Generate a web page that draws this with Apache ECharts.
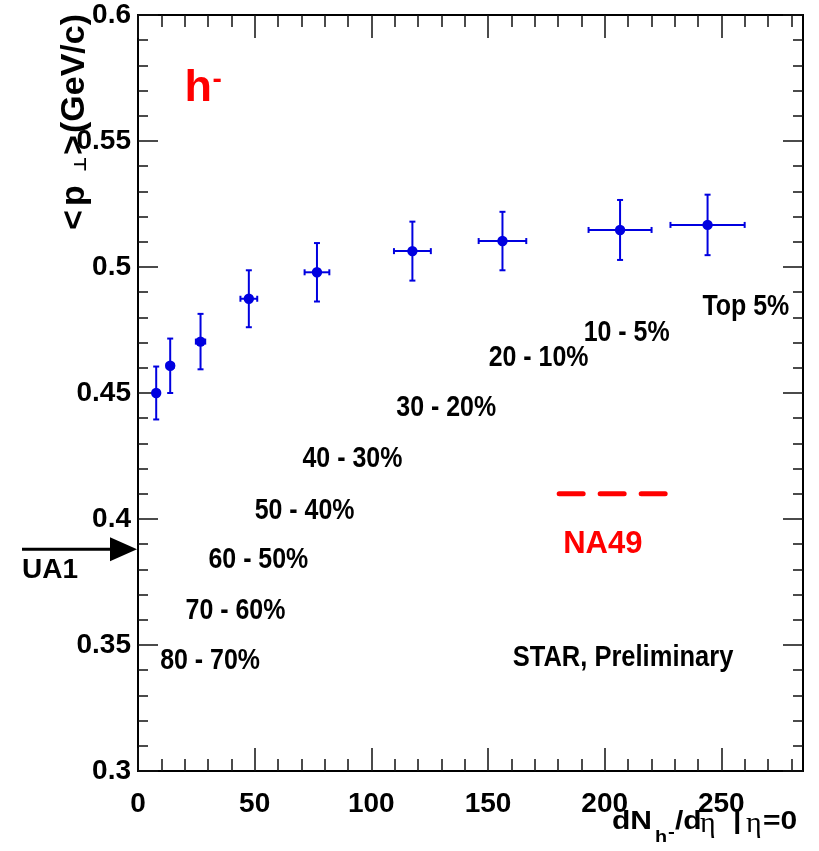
<!DOCTYPE html>
<html><head><meta charset="utf-8">
<script src="https://cdn.jsdelivr.net/npm/echarts@6/dist/echarts.min.js"></script>
<style>html,body{margin:0;padding:0;background:#fff}#c{width:819px;height:851px}</style>
</head><body><div id="c"></div>
<script>
// ---- data ----
const dNdEta      = [7.8, 13.8, 26.8, 47.5, 76.7, 117.6, 156.2, 206.6, 244.1];
const dNdEtaErr   = [1.0, 1.5, 2.0, 3.6, 5.3, 7.9, 10.2, 13.5, 15.9];
const meanPt      = [0.4500, 0.4608, 0.4704, 0.4874, 0.4979, 0.5063, 0.5103, 0.5147, 0.5167];
const meanPtErr   = [0.0105, 0.0108, 0.0110, 0.0113, 0.0116, 0.0117, 0.0116, 0.0119, 0.0120];
const centralityLabels = ['80 - 70%', '70 - 60%', '60 - 50%', '50 - 40%', '40 - 30%', '30 - 20%', '20 - 10%', '10 - 5%', 'Top 5%'];
const centralityAnchorX = [9.5, 20.4, 30.2, 50.0, 70.5, 110.7, 150.3, 191.0, 241.9];
const centralityAnchorY = [0.3435, 0.3635, 0.3837, 0.4032, 0.4238, 0.4442, 0.4639, 0.4740, 0.4841];
const xTickValues = [0, 50, 100, 150, 200, 250];
const xMinorTickValues = [10, 20, 30, 40, 60, 70, 80, 90, 110, 120, 130, 140, 160, 170, 180, 190, 210, 220, 230, 240, 260, 270, 280];
const yTickLabels = ['0.3', '0.35', '0.4', '0.45', '0.5', '0.55', '0.6'];
const na49MeanPt = 0.41;
const na49Range = [180.5, 226.5];
const ua1MeanPt = 0.388;

const BLUE = '#0000e0';
const RED = '#ff0000';
const ARIAL = "'Liberation Sans', Arial, sans-serif";
const SERIF = "'Liberation Serif', 'DejaVu Serif', serif";
const DEJAVU = "'DejaVu Sans', sans-serif";

const chart = echarts.init(document.getElementById('c'), null, {renderer: 'canvas'});

const axisLineStyle = {color: '#000', width: 2};
const tickStyle = {color: '#111', width: 1.5};

function xAx(pos, values, len, withLabel) {
  return {
    type: 'value', position: pos, min: 0, max: 285, interval: 10,
    axisLine: {show: true, onZero: false, lineStyle: axisLineStyle},
    axisTick: {show: true, inside: true, length: len, customValues: values, lineStyle: tickStyle},
    axisLabel: withLabel ? {show: true, customValues: xTickValues, margin: 19, fontSize: 28, fontWeight: 'bold', fontFamily: ARIAL, color: '#000'} : {show: false},
    splitLine: {show: false}
  };
}
function yAx(pos, withLabel) {
  return {
    type: 'value', position: pos, min: 0.3, max: 0.6, interval: 0.05,
    axisLine: {show: true, onZero: false, lineStyle: axisLineStyle},
    axisTick: {show: true, inside: true, length: 20, lineStyle: tickStyle},
    minorTick: {show: true, splitNumber: 5, length: 10, lineStyle: tickStyle},
    axisLabel: withLabel ? {show: true, margin: 7, fontSize: 28, fontWeight: 'bold', fontFamily: ARIAL, color: '#000',
      formatter: (v) => yTickLabels[Math.round((v - 0.3) / 0.05)]} : {show: false},
    splitLine: {show: false}
  };
}

const option = {
  animation: false,
  backgroundColor: '#fff',
  grid: {left: 138, right: 16, top: 15, bottom: 80},
  xAxis: [
    xAx('bottom', xMinorTickValues, 12, true),
    xAx('bottom', xTickValues, 23, false),
    xAx('top', xMinorTickValues, 12, false),
    xAx('top', xTickValues, 23, false)
  ],
  yAxis: [yAx('left', true), yAx('right', false)],
  series: [
    {
      type: 'custom', xAxisIndex: 0, yAxisIndex: 0, clip: false, z: 10,
      data: dNdEta.map((x, i) => [x, meanPt[i], dNdEtaErr[i], meanPtErr[i]]),
      encode: {x: 0, y: 1},
      renderItem: function (params, api) {
        const x = api.value(0), y = api.value(1), ex = api.value(2), ey = api.value(3);
        const c = api.coord([x, y]);
        const l = api.coord([x - ex, y]), r = api.coord([x + ex, y]);
        const t = api.coord([x, y + ey]), b = api.coord([x, y - ey]);
        const st = {stroke: BLUE, lineWidth: 2};
        return {
          type: 'group',
          children: [
            {type: 'line', shape: {x1: c[0], y1: t[1], x2: c[0], y2: b[1]}, style: st},
            {type: 'line', shape: {x1: c[0] - 3, y1: t[1], x2: c[0] + 3, y2: t[1]}, style: st},
            {type: 'line', shape: {x1: c[0] - 3, y1: b[1], x2: c[0] + 3, y2: b[1]}, style: st},
            {type: 'line', shape: {x1: l[0], y1: c[1], x2: r[0], y2: c[1]}, style: st},
            {type: 'line', shape: {x1: l[0], y1: c[1] - 3, x2: l[0], y2: c[1] + 3}, style: st},
            {type: 'line', shape: {x1: r[0], y1: c[1] - 3, x2: r[0], y2: c[1] + 3}, style: st},
            {type: 'circle', shape: {cx: c[0], cy: c[1], r: 5.2}, style: {fill: BLUE}}
          ]
        };
      }
    },
    {
      type: 'line', xAxisIndex: 0, yAxisIndex: 0, symbol: 'none', silent: true,
      data: [[na49Range[0], na49MeanPt], [na49Range[1], na49MeanPt]],
      lineStyle: {color: RED, width: 5, type: [24, 17], cap: 'round'}
    }
  ]
};
chart.setOption(option);

const P = (x, y) => chart.convertToPixel({xAxisIndex: 0, yAxisIndex: 0}, [x, y]);
const graphics = [];

function txt(x, y, text, size, opts) {
  opts = opts || {};
  return {
    type: 'text', x: x, y: y, z: 20, scaleX: opts.sx || 1, scaleY: 1,
    style: {
      text: text, fill: opts.fill || '#000', fontSize: size,
      fontWeight: opts.weight || 'bold', fontFamily: opts.family || ARIAL,
      align: opts.align || 'left', verticalAlign: 'middle'
    }
  };
}

centralityLabels.forEach((t, i) => {
  const p = P(centralityAnchorX[i], centralityAnchorY[i]);
  graphics.push(txt(p[0], p[1], t, 29, {sx: 0.86}));
});

// STAR, Preliminary
(function () {
  const p = P(160.6, 0.3448);
  graphics.push(txt(p[0], p[1], 'STAR, Preliminary', 30, {sx: 0.85}));
})();

// NA49 label
(function () {
  const p = P(199.2, 0.390);
  graphics.push(txt(p[0], p[1], 'NA49', 31, {fill: RED, align: 'center'}));
})();

// h- label
(function () {
  const p = P(19.9, 0.5708);
  graphics.push(txt(p[0], p[1], 'h', 45, {fill: RED}));
  graphics.push(txt(p[0] + 28, p[1] - 8, '-', 28, {fill: RED}));
})();

// UA1 arrow
(function () {
  const p = P(0, ua1MeanPt);
  const x0 = p[0], y = p[1];
  graphics.push({type: 'line', z: 20, shape: {x1: x0 - 116, y1: y, x2: x0 - 26, y2: y}, style: {stroke: '#000', lineWidth: 3}});
  graphics.push({type: 'polygon', z: 20, shape: {points: [[x0 - 28, y - 12], [x0 - 1, y], [x0 - 28, y + 12]]}, style: {fill: '#000'}});
  graphics.push(txt(x0 - 116, y + 21, 'UA1', 28));
})();

// x axis title: dN_{h-}/dη |η=0
(function () {
  const x0 = 612, y0 = 822;
  const sx = 1.2;
  const children = [
    txt(0, 0, 'dN', 25, {sx: sx}),
    txt(43, 15, 'h', 16.5, {sx: sx}),
    txt(56, 10, '-', 17, {sx: sx}),
    txt(63, 0, '/d', 25, {sx: sx}),
    txt(88, 2, 'η', 30, {weight: 'normal', family: SERIF}),
    txt(121, 0, '|', 25, {sx: sx}),
    txt(134, 2, 'η', 30, {weight: 'normal', family: SERIF}),
    txt(151, 0, '=0', 25, {sx: sx})
  ];
  graphics.push({type: 'group', x: x0, y: y0, z: 20, children: children});
})();

// y axis title (rotated): < p_⊥ > (GeV/c)
(function () {
  const children = [
    txt(0, 0, '<', 34),
    txt(24, 0, 'p', 34),
    txt(58, 7, '⊥', 17, {family: DEJAVU}),
    txt(75, 0, '>', 34),
    txt(97, 0, '(GeV/c)', 34)
  ];
  graphics.push({type: 'group', x: 75, y: 230, rotation: Math.PI / 2, z: 20, children: children});
})();

chart.setOption({graphic: graphics});
</script>
</body></html>
